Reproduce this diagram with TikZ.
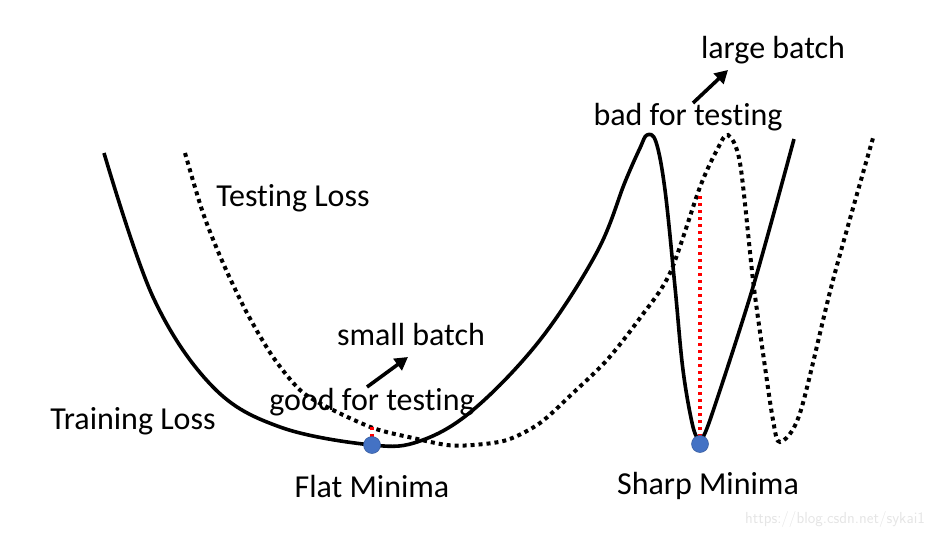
\documentclass[tikz,border=0pt]{standalone}
\usepackage{fontspec}
\setmainfont[Ligatures={NoCommon}]{Carlito}
\usetikzlibrary{arrows.meta}
\definecolor{dotblue}{HTML}{4472C4}
\begin{document}
\begin{tikzpicture}[x=1pt,y=-1pt,
  lbl/.style={font=\fontsize{32}{36}\selectfont, inner sep=0pt},
  trainc/.style={line width=3.6pt},
  testc/.style={line width=4pt, dash pattern=on 4pt off 4pt},
  redc/.style={red, line width=3.5pt, dash pattern=on 3.5pt off 3.5pt},
  minpt/.style={circle, fill=dotblue, draw=dotblue!80!black, line width=0.5pt, minimum size=17pt, inner sep=0pt},
  arr/.style={line width=3.6pt, -{Triangle[length=13pt,width=14pt]}}]
\useasboundingbox (0,0) rectangle (939,536);
% training loss
\draw[trainc] plot[smooth, tension=0.6] coordinates {(104,153) (153,297) (213,387) (280,427) (372,445) (420,441) (473,410) (540,340) (597,252) (625,182) (640,148) (647,135) (656,142) (665,190) (675,287) (683,370) (693,427) (700,441)};
\draw[trainc] plot[smooth, tension=0.5] coordinates {(700,441) (710,420) (753,287) (794,139)};
% testing loss
\draw[testc] plot[smooth, tension=0.5] coordinates {(185,153) (203,213) (223,263) (247,313) (273,357) (300,390) (327,407) (373,428) (413,438) (447,445) (473,445) (507,440) (540,423) (573,393) (607,360) (640,318) (670,273) (700,187) (718,148) (728,135) (740,163) (753,280) (763,353) (773,420) (780,442) (800,413) (833,280) (873,138)};
% red gaps
\coordinate (fa) at (372,437);
\coordinate (fb) at (372,426);
\coordinate (sa) at (700,437);
\coordinate (sb) at (700,196);
\draw[redc] (fa) -- (fb);
\draw[redc] (sa) -- (sb);
% minima
\node[minpt] (flat) at (372,445) {};
\node[minpt] (sharp) at (700,444) {};
% labels
\node[lbl] (tl) at (293,198) {Testing Loss};
\node[lbl] (trl) at (133,421) {Training Loss};
\node[lbl] (sb1) at (411,335) {small batch};
\node[lbl] (gt) at (372,402) {good for testing};
\node[lbl] (lb) at (773,50) {large batch};
\node[lbl] (bt) at (688,117) {bad for testing};
\node[lbl] (fm) at (372,486) {Flat Minima};
\node[lbl] (sm) at (708,486) {Sharp Minima};
\node[font=\fontsize{16}{18}\selectfont\sffamily, text=black!10, inner sep=0pt] (wm) at (835,519) {https://blog.csdn.net/sykai1};
% arrows
\coordinate (a1s) at (367,387);
\coordinate (a1e) at (408,357);
\coordinate (a2s) at (693,103);
\coordinate (a2e) at (728,70);
\draw[arr] (a1s) -- (a1e);
\draw[arr] (a2s) -- (a2e);
\end{tikzpicture}
\end{document}
